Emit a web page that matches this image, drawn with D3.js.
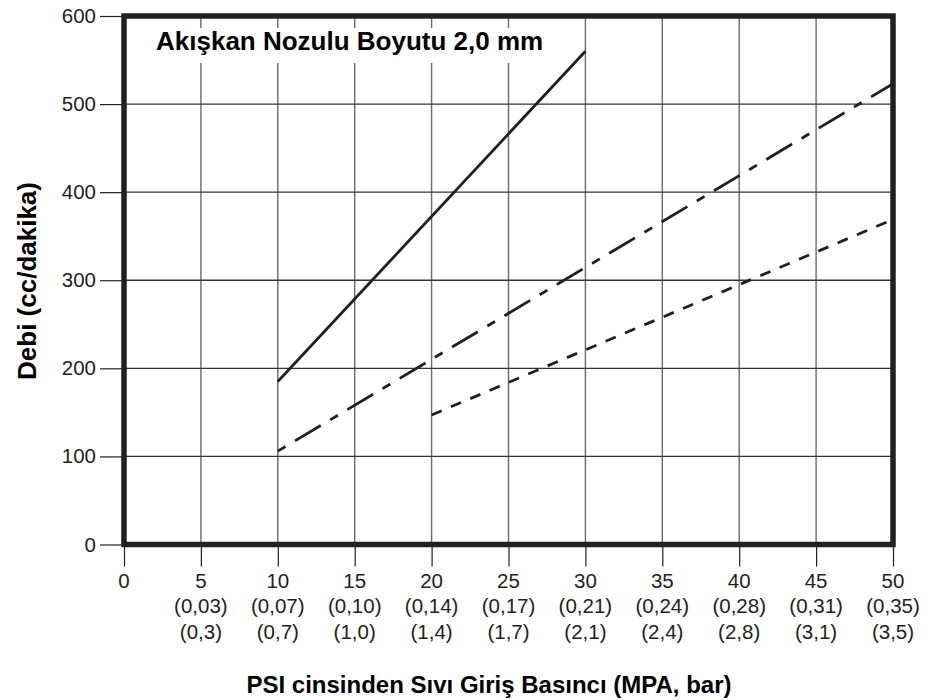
<!DOCTYPE html>
<html>
<head>
<meta charset="utf-8">
<script src="https://cdn.jsdelivr.net/npm/d3@7"></script>
<style>
  html, body { margin: 0; padding: 0; background: #fff; }
  svg { display: block; font-family: "Liberation Sans", Arial, Helvetica, sans-serif; }
</style>
</head>
<body>
<svg id="chart" width="937" height="700"></svg>
<script>
// ---- data ----
const psiTicks = [0, 5, 10, 15, 20, 25, 30, 35, 40, 45, 50];
const mpaLabels = ["", "(0,03)", "(0,07)", "(0,10)", "(0,14)", "(0,17)", "(0,21)", "(0,24)", "(0,28)", "(0,31)", "(0,35)"];
const barLabels = ["", "(0,3)", "(0,7)", "(1,0)", "(1,4)", "(1,7)", "(2,1)", "(2,4)", "(2,8)", "(3,1)", "(3,5)"];
const flowTicks = [0, 100, 200, 300, 400, 500, 600];

const solidPsi = [10, 30];
const solidFlow = [185, 560];
const dashDotPsi = [10, 50];
const dashDotFlow = [106, 523];
const dashedPsi = [20, 50];
const dashedFlow = [147, 369];

const titleText = "Akışkan Nozulu Boyutu 2,0 mm";
const xTitle = "PSI cinsinden Sıvı Giriş Basıncı (MPA, bar)";
const yTitle = "Debi (cc/dakika)";

// ---- layout ----
const svg = d3.select("#chart");
const pLeft = 124, pRight = 893, pTop = 16, pBottom = 544.5;
const ink = "#231f20";
const tickFont = 20.5;

const x = d3.scaleLinear().domain([0, 50]).range([pLeft, pRight]);
const y = d3.scaleLinear().domain([0, 600]).range([pBottom, pTop]);

// vertical grid
svg.append("g").selectAll("line")
  .data(psiTicks.filter(d => d > 0 && d < 50))
  .join("line")
  .attr("x1", d => x(d)).attr("x2", d => x(d))
  .attr("y1", pTop).attr("y2", pBottom)
  .attr("stroke", "#6a6a6a").attr("stroke-width", 1.4);

// horizontal grid
svg.append("g").selectAll("line")
  .data(flowTicks.filter(d => d > 0 && d < 600))
  .join("line")
  .attr("x1", pLeft).attr("x2", pRight)
  .attr("y1", d => y(d)).attr("y2", d => y(d))
  .attr("stroke", "#333").attr("stroke-width", 1.3);

// title with white backing
svg.append("rect")
  .attr("x", 150).attr("y", 28).attr("width", 402).attr("height", 35)
  .attr("fill", "#fff");
svg.append("text")
  .attr("x", 156).attr("y", 50)
  .attr("font-size", 26).attr("font-weight", "bold").attr("fill", "#000")
  .text(titleText);

// series
const line = d3.line().x(d => x(d[0])).y(d => y(d[1]));
function drawSeries(psi, flow, dash) {
  svg.append("path")
    .datum(psi.map((p, i) => [p, flow[i]]))
    .attr("d", line)
    .attr("fill", "none")
    .attr("stroke", ink)
    .attr("stroke-width", 2.8)
    .attr("stroke-dasharray", dash);
}
drawSeries(solidPsi, solidFlow, null);
drawSeries(dashDotPsi, dashDotFlow, "9,11,30,11");
drawSeries(dashedPsi, dashedFlow, "11,10");

// y axis
const yAxis = d3.axisLeft(y).tickValues(flowTicks).tickSize(24).tickPadding(4);
const gy = svg.append("g").attr("transform", `translate(${pLeft},0)`).call(yAxis);
gy.select(".domain").remove();
gy.selectAll(".tick line").attr("stroke", ink).attr("stroke-width", 1.2);
gy.selectAll(".tick text").attr("font-size", tickFont).attr("fill", "#231f20")
  .attr("font-family", "Liberation Sans, Arial, sans-serif");

// x axis
const xAxis = d3.axisBottom(x).tickValues(psiTicks).tickSize(22).tickPadding(8);
const gx = svg.append("g").attr("transform", `translate(0,${pBottom})`).call(xAxis);
gx.select(".domain").remove();
gx.selectAll(".tick line").attr("stroke", ink).attr("stroke-width", 1.2);
gx.selectAll(".tick text").remove();
const lab = svg.append("g").attr("font-size", tickFont).attr("fill", "#231f20").attr("text-anchor", "middle");
lab.selectAll("text.l1").data(psiTicks).join("text").attr("class", "l1")
  .attr("x", d => x(d)).attr("y", 588).text(d => d);
lab.selectAll("text.l2").data(psiTicks).join("text").attr("class", "l2")
  .attr("x", d => x(d)).attr("y", 613).text((d, i) => mpaLabels[i]);
lab.selectAll("text.l3").data(psiTicks).join("text").attr("class", "l3")
  .attr("x", d => x(d)).attr("y", 639).text((d, i) => barLabels[i]);

// frame
svg.append("rect")
  .attr("x", pLeft).attr("y", pTop)
  .attr("width", pRight - pLeft).attr("height", pBottom - pTop)
  .attr("fill", "none").attr("stroke", ink).attr("stroke-width", 5.5);

// axis titles
svg.append("text")
  .attr("x", 489).attr("y", 693)
  .attr("text-anchor", "middle")
  .attr("font-size", 24).attr("font-weight", "bold").attr("fill", "#000")
  .text(xTitle);
svg.append("text")
  .attr("transform", "translate(36,281) rotate(-90)")
  .attr("text-anchor", "middle")
  .attr("font-size", 26).attr("font-weight", "bold").attr("fill", "#000")
  .text(yTitle);
</script>
</body>
</html>
